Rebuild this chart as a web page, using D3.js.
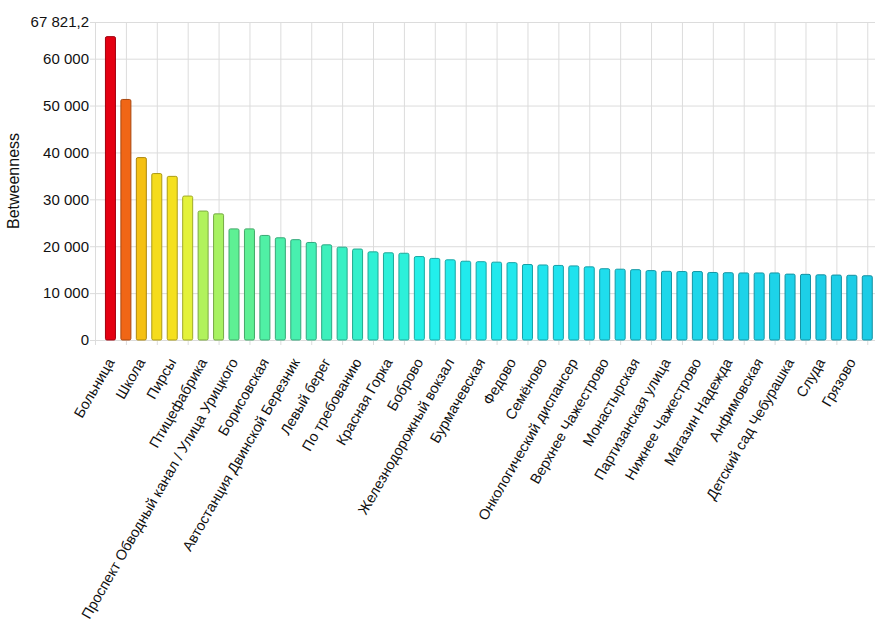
<!DOCTYPE html>
<html>
<head>
<meta charset="utf-8">
<script src="https://cdn.jsdelivr.net/npm/d3@7"></script>
<style>
    body { margin: 0; background: #fff; }
    svg { font-family: "Liberation Sans", Arial, sans-serif; }
</style>
</head>
<body>
<svg id="chart"></svg>
<script>
// betweenness per stop, sorted; only every other stop is labelled on the axis
var values = [
    64700, 51300, 38900, 35500, 34900, 30700, 27500, 26900, 23700, 23700,
    22300, 21800, 21400, 20800, 20300, 19800, 19400, 18800, 18600, 18500,
    17800, 17400, 17100, 16800, 16700, 16600, 16500, 16100, 16000, 15900,
    15800, 15600, 15200, 15100, 15000, 14800, 14650, 14600, 14600, 14400,
    14350, 14300, 14300, 14300, 14050, 14000, 13900, 13850, 13800, 13700
]
var labels = [
    "Больница", "Школа", "Пирсы", "Птицефабрика",
    "Проспект Обводный канал / Улица Урицкого", "Борисовская",
    "Автостанция Двинской Березник", "Левый берег", "По требованию",
    "Красная Горка", "Боброво", "Железнодорожный вокзал", "Бурмачевская",
    "Федово", "Семёново", "Онкологический диспансер", "Верхнее Чажестрово",
    "Монастырская", "Партизанская улица", "Нижнее Чажестрово",
    "Магазин Надежда", "Анфимовская", "Детский сад Чебурашка", "Слуда", "Грязово"
]
var yMax = 67821.2
var yTicks = [0, 10000, 20000, 30000, 40000, 50000, 60000, yMax]
var colorStops = [13700, 15500, 17500, 20000, 23700, 26900, 30700, 35000, 38900, 51300, 64700]
var colorRange = ["#1ccce6", "#1fe0ee", "#22f0ec", "#3af0c0", "#5ef094", "#a8f262",
                  "#e4f23a", "#f5e01e", "#f5c012", "#f06616", "#e40012"]

var ru = d3.formatLocale({decimal: ",", thousands: "\u00a0", grouping: [3], currency: ["", " ₽"]})
var fmtInt = ru.format(",d")
var fmtDec = ru.format(",.1f")

var W = 886, H = 632
var mLeft = 95, mRight = 875, mTop = 22, mBottom = 340

var svg = d3.select("#chart").attr("width", W).attr("height", H)

var x = d3.scaleLinear().domain([0, 50.5]).range([mLeft, mRight])
var y = d3.scaleLinear().domain([0, yMax]).range([mBottom, mTop])
var color = d3.scaleLinear().domain(colorStops).range(colorRange)

function grey(g) {
    g.select(".domain").remove()
    g.selectAll("line").attr("stroke", "#dcdcdc")
}

// vertical grid at every other stop
var gridX = d3.range(0, values.length + 1, 2)
svg.append("g")
    .attr("transform", "translate(0," + mBottom + ")")
    .call(d3.axisBottom(x).tickValues(gridX).tickSize(-(mBottom - mTop)).tickFormat(""))
    .call(grey)
svg.append("g")
    .attr("transform", "translate(0," + mBottom + ")")
    .call(d3.axisBottom(x).tickValues(gridX).tickSize(5).tickFormat(""))
    .call(grey)

// horizontal grid + y labels
svg.append("g")
    .attr("transform", "translate(" + mLeft + ",0)")
    .call(d3.axisLeft(y).tickValues(yTicks).tickSize(-(mRight - mLeft)).tickFormat(""))
    .call(grey)
var yAxis = svg.append("g")
    .attr("transform", "translate(" + mLeft + ",0)")
    .call(d3.axisLeft(y).tickValues(yTicks).tickSize(5)
        .tickFormat(function(d) { return d === yMax ? fmtDec(d) : fmtInt(d) }))
    .call(grey)
yAxis.selectAll("text").attr("fill", "#111").style("font-size", "15px").attr("x", -6)

// bars
var bw = 10
svg.append("g")
    .selectAll("rect")
    .data(values)
    .join("rect")
    .attr("x", function(d, i) { return x(i + 1) - bw / 2 })
    .attr("y", function(d) { return y(d) })
    .attr("width", bw)
    .attr("height", function(d) { return y(0) - y(d) })
    .attr("rx", 1.5)
    .attr("fill", function(d) { return color(d) })
    .attr("stroke", function(d) { return d3.color(color(d)).darker(1) })
    .attr("stroke-width", 1)

// category labels under odd stops
var labelX = labels.map(function(d, i) { return i * 2 + 1 })
var xAxis = svg.append("g")
    .attr("transform", "translate(0," + mBottom + ")")
    .call(d3.axisBottom(x).tickValues(labelX).tickSize(0)
        .tickFormat(function(d) { return labels[(d - 1) / 2] }))
xAxis.select(".domain").remove()
xAxis.selectAll("text")
    .attr("fill", "#111")
    .style("font-size", "14.5px")
    .attr("text-anchor", "end")
    .attr("dy", 0)
    .attr("y", 0)
    .attr("transform", "translate(4,22) rotate(-60)")

svg.append("text")
    .attr("transform", "translate(19," + ((mTop + mBottom) / 2) + ") rotate(-90)")
    .attr("text-anchor", "middle")
    .style("font-size", "16px")
    .attr("fill", "#111")
    .text("Betweenness")
</script>
</body>
</html>
